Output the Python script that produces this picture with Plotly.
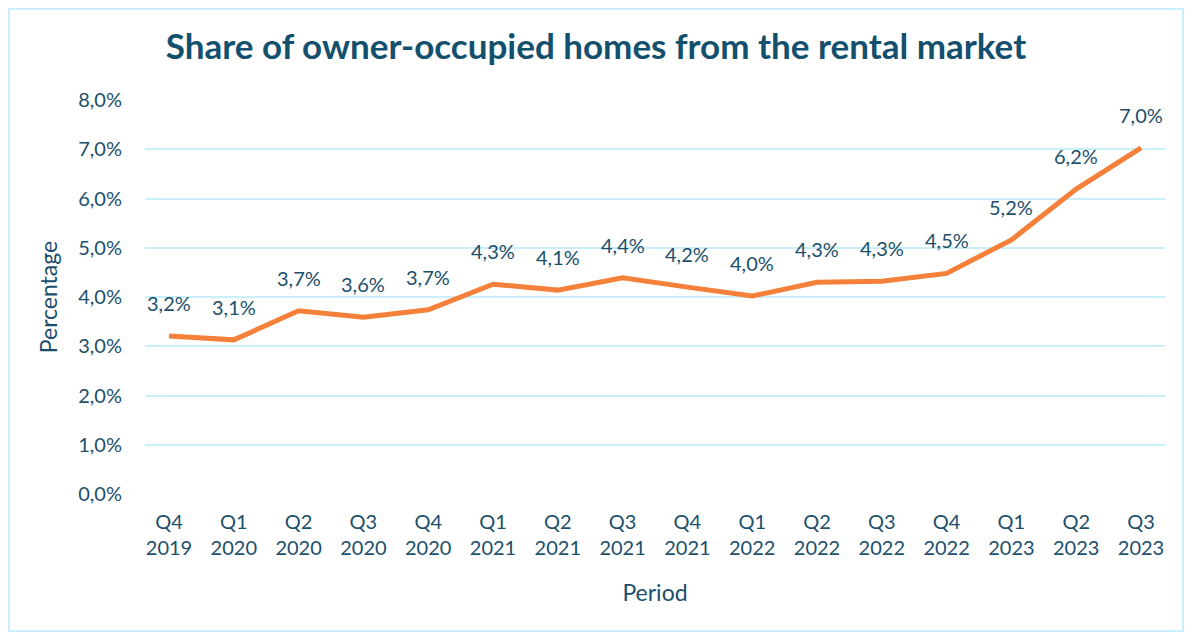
import plotly.graph_objects as go

periods = ["Q4<br>2019", "Q1<br>2020", "Q2<br>2020", "Q3<br>2020", "Q4<br>2020",
           "Q1<br>2021", "Q2<br>2021", "Q3<br>2021", "Q4<br>2021",
           "Q1<br>2022", "Q2<br>2022", "Q3<br>2022", "Q4<br>2022",
           "Q1<br>2023", "Q2<br>2023", "Q3<br>2023"]
share = [3.21, 3.13, 3.72, 3.59, 3.74, 4.26, 4.14, 4.39, 4.20,
         4.02, 4.30, 4.32, 4.48, 5.16, 6.19, 7.03]
y_ticks = [0, 1, 2, 3, 4, 5, 6, 7, 8]

TEXT = "#1B4F6B"
GRID = "#C8EFFA"
# page has an 8px body margin, so the figure is a bit smaller than the window
W, H = 1176, 624
ML, MR, MT, MB = 137, 19, 92, 138

fig = go.Figure()
fig.add_trace(go.Scatter(
    x=periods, y=share, mode="lines",
    line=dict(color="#F4803A", width=5),
    hoverinfo="skip", showlegend=False,
))

# data labels above the points
for p, v in zip(periods, share):
    fig.add_annotation(x=p, y=v, text=f"{v:.1f}%".replace(".", ","),
                       showarrow=False, yshift=33,
                       font=dict(size=20, color=TEXT))

# light border round the whole chart
pw, ph = W - ML - MR, H - MT - MB
fig.add_shape(type="rect", xref="paper", yref="paper",
              x0=-(ML - 1) / pw, x1=1 + (MR - 1) / pw,
              y0=-(MB - 1) / ph, y1=1 + (MT - 1) / ph,
              line=dict(color=GRID, width=2), layer="below")

fig.update_layout(
    width=W, height=H,
    margin=dict(l=ML, r=MR, t=MT, b=MB),
    plot_bgcolor="white", paper_bgcolor="white",
    font=dict(family="Lato, Open Sans, sans-serif", color=TEXT, size=20),
    title=dict(text="<b>Share of owner-occupied homes from the rental market</b>",
               x=0.5, xref="container", y=1 - 39 / H, yref="container",
               xanchor="center", yanchor="middle",
               font=dict(size=35, color="#12506E")),
    xaxis=dict(title=dict(text="Period", standoff=26, font=dict(size=23)),
               showgrid=False, showline=False, ticks="",
               ticklabelstandoff=14, tickfont=dict(size=20)),
    yaxis=dict(title=dict(text="Percentage", standoff=14, font=dict(size=23)),
               range=[0, 8], tickvals=y_ticks,
               ticktext=[f"{t},0%" for t in y_ticks],
               gridcolor=GRID, gridwidth=2, zeroline=False,
               showline=False, ticklabelstandoff=22,
               tickfont=dict(size=20)),
)

fig.write_html("out.html")
